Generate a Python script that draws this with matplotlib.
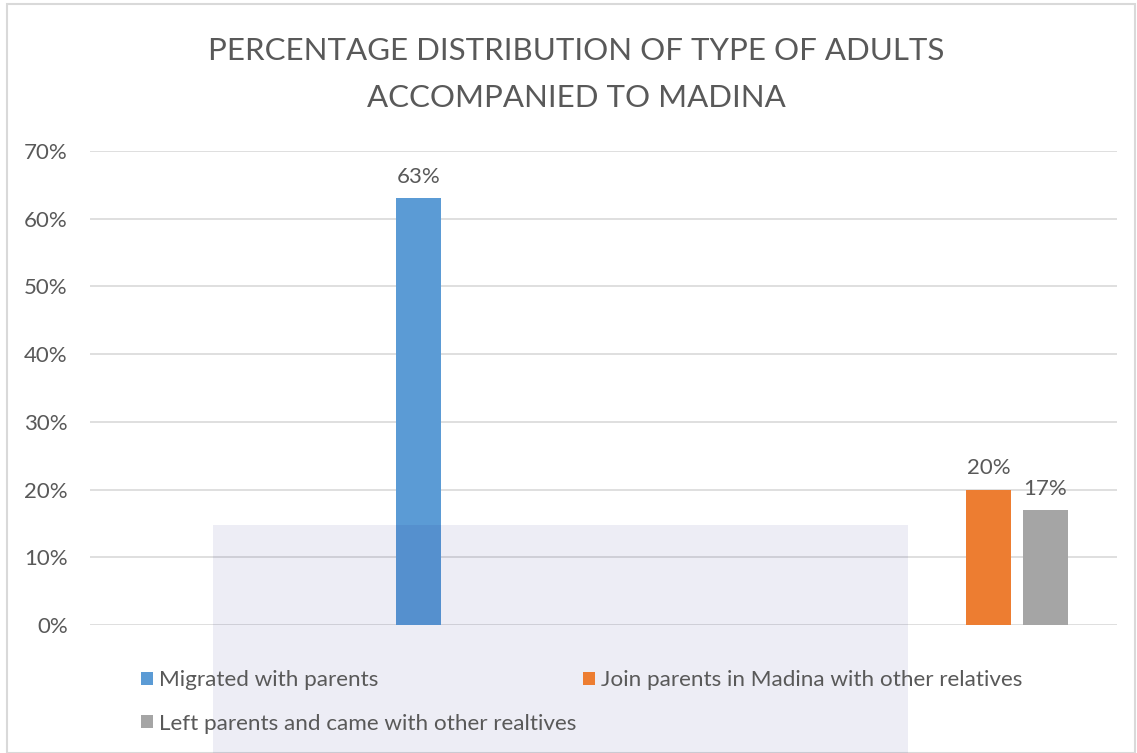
import matplotlib
matplotlib.use("Agg")
import matplotlib.pyplot as plt
from matplotlib.patches import Rectangle
import numpy as np

# four (unlabelled) categories, three series as in the Excel sheet
categories = ["", "", "", ""]
series_names = ["Migrated with parents",
                "Join parents in Madina with other relatives",
                "Left parents and came with other realtives"]
migrated = [0, 63, 0, 0]
join_parents = [0, 0, 0, 20]
left_parents = [0, 0, 0, 17]
colors = ["#5B9BD5", "#ED7D31", "#A5A5A5"]

plt.rcParams['font.family'] = ['Lato', 'DejaVu Sans']
txt = "#595959"

fig = plt.figure(figsize=(11.37, 7.53), dpi=100)
ax = fig.add_axes([90/1137, 1-625/753, 1027/1137, (625-151)/753])

x = np.arange(len(categories))
w = 0.175
step = 0.22
bars = []
for i, vals in enumerate([migrated, join_parents, left_parents]):
    b = ax.bar(x + (i-1)*step, vals, w, color=colors[i], label=series_names[i], zorder=3)
    bars.append(b)
    for rect, v in zip(b, vals):
        if v > 0:
            ax.annotate("%d%%" % v, (rect.get_x()+rect.get_width()/2, v),
                        xytext=(0, 8), textcoords="offset points",
                        ha="center", va="bottom", fontsize=16, color=txt)

ax.set_xlim(-0.5, len(categories)-0.5)
ax.set_ylim(0, 70)
ax.set_yticks(range(0, 71, 10))
ax.set_yticklabels(["%d%%" % t for t in range(0, 71, 10)])
ax.set_xticks([])
ax.tick_params(axis='y', length=0, labelsize=16, labelcolor=txt, pad=16)
ax.grid(axis='y', color="#d9d9d9", lw=1.2, zorder=0)
for s in ax.spines.values():
    s.set_visible(False)

fig.text(0.507, 1-51/753, "PERCENTAGE DISTRIBUTION OF TYPE OF ADULTS",
         ha="center", va="center", fontsize=22.5, color=txt)
fig.text(0.507, 1-98/753, "ACCOMPANIED TO MADINA",
         ha="center", va="center", fontsize=22.5, color=txt)

h = [bars[0], bars[2], bars[1]]
lab = [series_names[0], series_names[2], series_names[1]]
leg = fig.legend(h, lab, ncol=2, loc="upper left", bbox_to_anchor=(121/1137, 1-650/753),
                 frameon=False, fontsize=16.2, labelcolor=txt, handlelength=0.5,
                 handleheight=0.5, handletextpad=0.3, columnspacing=0.3, labelspacing=1.05)

# faint watermark block and chart border
fig.patches.append(Rectangle((213/1137, 0), (908-213)/1137, (753-525)/753,
                             transform=fig.transFigure, color="#1a1a80", alpha=0.08, lw=0, zorder=5))
fig.patches.append(Rectangle((7/1137, 0), 1128/1137, 1-4/753, transform=fig.transFigure,
                             fill=False, edgecolor="#d9d9d9", lw=1.5))

fig.savefig("out.png", dpi=100)
